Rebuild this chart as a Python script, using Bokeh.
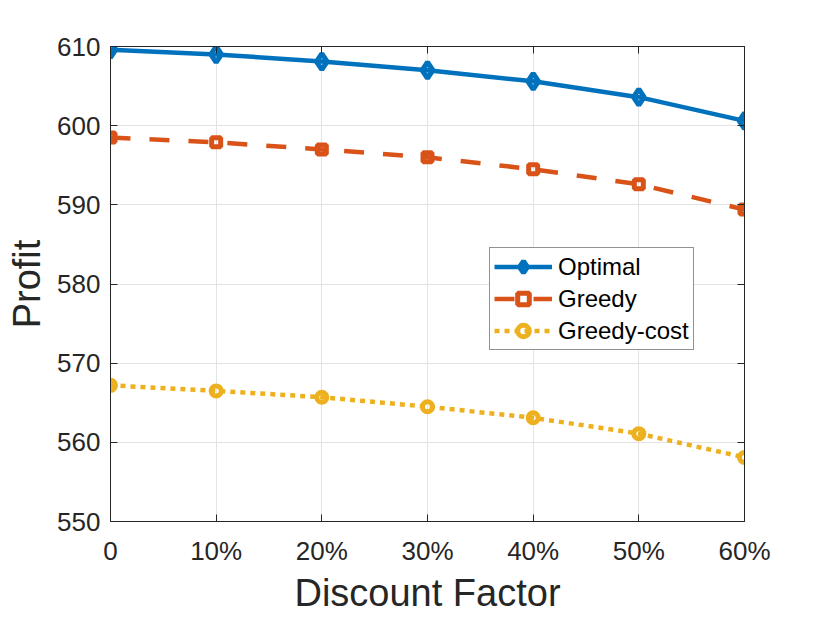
from bokeh.plotting import figure
from bokeh.models import FixedTicker, LinearAxis, Legend, LegendItem, Range1d
from bokeh.embed import file_html
from bokeh.resources import INLINE

# ---- data ----
discount = [0, 10, 20, 30, 40, 50, 60]
discount_labels = ["0", "10%", "20%", "30%", "40%", "50%", "60%"]
optimal = [609.6, 609.0, 608.1, 607.0, 605.6, 603.6, 600.6]
greedy = [598.5, 597.9, 597.0, 596.0, 594.5, 592.6, 589.4]
greedy_cost = [567.2, 566.5, 565.7, 564.5, 563.1, 561.1, 558.1]
y_ticks = [550, 560, 570, 580, 590, 600, 610]

FONT = "Liberation Sans"
AX = "#262626"

p = figure(frame_width=634, frame_height=475,
           min_border_left=110, min_border_top=46,
           min_border_right=66, min_border_bottom=88,
           x_range=Range1d(0, 60), y_range=Range1d(550, 610),
           output_backend="svg", toolbar_location=None,
           background_fill_color="white", border_fill_color="white")

p.outline_line_color = AX
p.outline_line_width = 1

for ax in (p.xaxis[0], p.yaxis[0]):
    ax.major_tick_in = 7
    ax.major_tick_out = 0
    ax.minor_tick_line_color = None
    ax.axis_line_color = AX
    ax.major_tick_line_color = AX
    ax.major_label_text_font = FONT
    ax.major_label_text_font_size = "26px"
    ax.major_label_text_color = AX
    ax.axis_label_text_font = FONT
    ax.axis_label_text_font_size = "38px"
    ax.axis_label_text_font_style = "normal"
    ax.axis_label_text_color = AX

p.xaxis[0].ticker = FixedTicker(ticks=discount)
p.xaxis[0].major_label_overrides = {d: l for d, l in zip(discount, discount_labels)}
p.xaxis[0].axis_label = "Discount Factor"
p.xaxis[0].major_label_standoff = 14
p.xaxis[0].axis_label_standoff = 3
p.yaxis[0].ticker = FixedTicker(ticks=y_ticks)
p.yaxis[0].axis_label = "Profit"
p.yaxis[0].major_label_standoff = 10
p.yaxis[0].axis_label_standoff = 6

# mirror axes with inward ticks (box on)
top = LinearAxis(ticker=FixedTicker(ticks=discount),
                 major_label_overrides={d: "" for d in discount})
right = LinearAxis(ticker=FixedTicker(ticks=y_ticks),
                   major_label_overrides={t: "" for t in y_ticks})
for ax in (top, right):
    ax.major_tick_in = 7
    ax.major_tick_out = 0
    ax.minor_tick_line_color = None
    ax.axis_line_color = AX
    ax.major_tick_line_color = AX
    ax.major_label_text_font_size = "1px"
    ax.major_label_standoff = 0
p.add_layout(top, "above")
p.add_layout(right, "right")

p.xgrid.grid_line_color = "#e3e3e3"
p.ygrid.grid_line_color = "#e3e3e3"
p.xgrid.ticker = FixedTicker(ticks=discount)
p.ygrid.ticker = FixedTicker(ticks=y_ticks)

blue, orange, yellow = "#0072BD", "#D95319", "#EDB120"

l1 = p.line(discount, optimal, line_color=blue, line_width=4.5)
m1 = p.scatter(discount, optimal, marker="diamond", size=16, line_color=blue,
               line_width=5, fill_color=None)
l2 = p.line(discount, greedy, line_color=orange, line_width=4.5, line_dash="20 19")
m2 = p.scatter(discount, greedy, marker="square", size=9, line_color=orange,
               line_width=5, fill_color=None)
l3 = p.line(discount, greedy_cost, line_color=yellow, line_width=4.5, line_dash="5 5")
m3 = p.scatter(discount, greedy_cost, marker="circle", size=10, line_color=yellow,
               line_width=5, fill_color=None)

legend = Legend(items=[LegendItem(label="Optimal", renderers=[l1, m1]),
                       LegendItem(label="Greedy", renderers=[l2, m2]),
                       LegendItem(label="Greedy-cost", renderers=[l3, m3])],
                location=(379, 171))
legend.label_text_font = FONT
legend.label_text_font_size = "24px"
legend.label_text_color = "black"
legend.glyph_width = 58
legend.glyph_height = 29
legend.label_height = 29
legend.label_standoff = 6
legend.spacing = 3
legend.padding = 4
legend.margin = 0
legend.border_line_color = AX
legend.border_line_width = 1
legend.background_fill_color = "white"
legend.background_fill_alpha = 1
p.add_layout(legend, "center")

open("out.html", "w").write(file_html(p, INLINE))
